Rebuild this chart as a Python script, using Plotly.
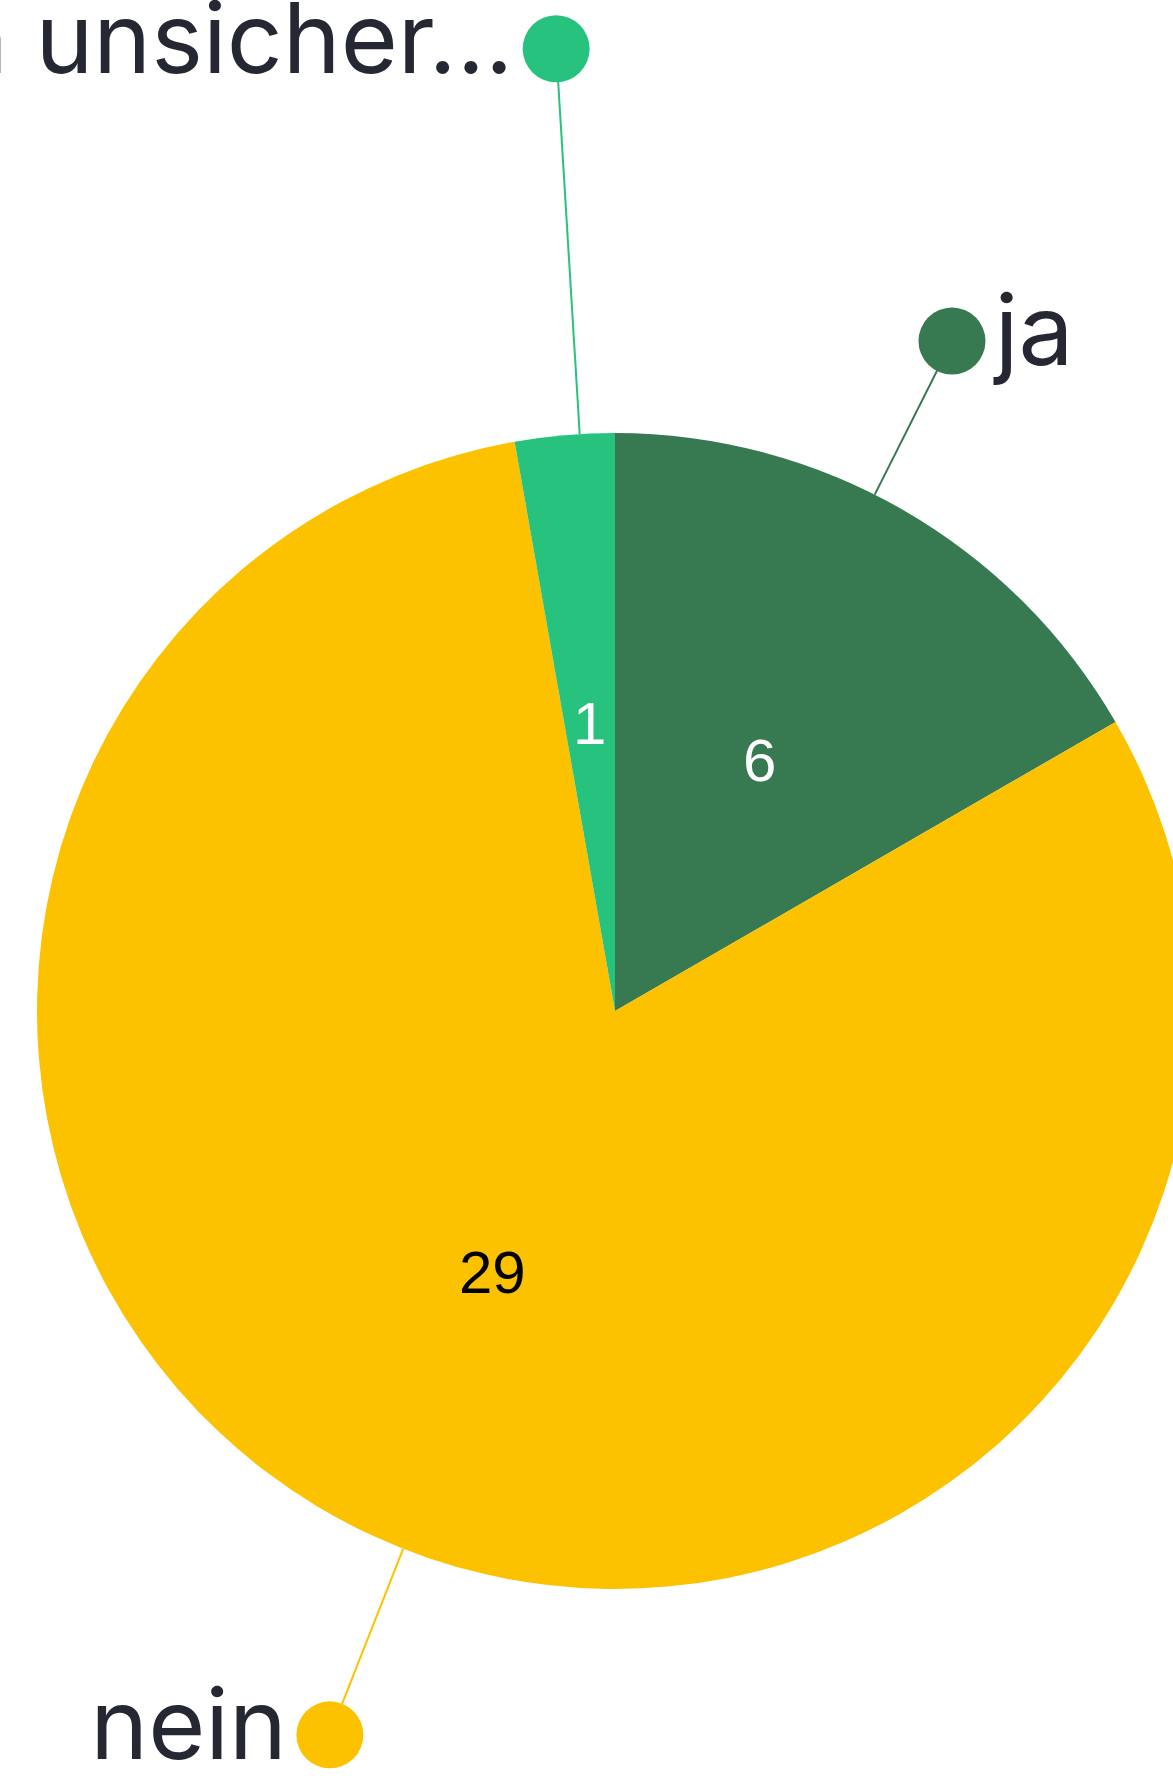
import math
import plotly.graph_objects as go

# ---- data ----
labels = ["ja", "nein", "Ich bin unsicher..."]
values = [6, 29, 1]
colors = ["#377A51", "#FCC200", "#27C27E"]
value_text_colors = ["#FFFFFF", "#000000", "#FFFFFF"]

# ---- layout constants (pixels) ----
W, H = 1210, 1789
CX, CY, R = 615, 1011, 578
label_dist = [750, 778, 964]          # dot distance from centre
label_angle_offset = [-3.3, -3.5, 1.5]  # degrees
label_side = ["middle right", "middle left", "middle left"]

fig = go.Figure()

fig.add_trace(go.Pie(
    labels=labels, values=values, sort=False, direction="clockwise", rotation=0,
    marker=dict(colors=colors, line=dict(width=0)),
    textinfo="none", hoverinfo="label+value", showlegend=False,
    domain=dict(x=[(CX - R) / W, (CX + R) / W], y=[(H - CY - R) / H, (H - CY + R) / H]),
))

total = sum(values)
cum = 0
annotations = []
for i, v in enumerate(values):
    start = cum / total * 360
    cum += v
    end = cum / total * 360
    mid = (start + end) / 2
    # slice value text at half radius
    mx = CX + 0.5 * R * math.sin(math.radians(mid))
    my = CY - 0.5 * R * math.cos(math.radians(mid))
    annotations.append(dict(
        x=mx, y=my, xref="x", yref="y", text=str(v), showarrow=False,
        font=dict(family="Liberation Sans, Arial", size=60, color=value_text_colors[i]),
        xanchor="center", yanchor="middle"))
    # leader line + dot + label
    a = math.radians(mid + label_angle_offset[i])
    sx, sy = CX + R * math.sin(a), CY - R * math.cos(a)
    dx, dy = CX + label_dist[i] * math.sin(a), CY - label_dist[i] * math.cos(a)
    fig.add_trace(go.Scatter(
        x=[sx, dx], y=[sy, dy], mode="lines+markers+text",
        line=dict(color=colors[i], width=2),
        marker=dict(size=[0, 67], color=colors[i], opacity=1, line=dict(width=0)),
        text=["", labels[i]], textposition=label_side[i],
        textfont=dict(family="Inter, Noto Sans, sans-serif", size=98, color="#252833"),
        cliponaxis=False, hoverinfo="skip", showlegend=False,
    ))

fig.update_layout(
    width=W, height=H,
    margin=dict(l=0, r=0, t=0, b=0),
    paper_bgcolor="white", plot_bgcolor="white",
    xaxis=dict(range=[0, W], visible=False, fixedrange=True, domain=[0, 1]),
    yaxis=dict(range=[H, 0], visible=False, fixedrange=True, domain=[0, 1]),
    annotations=annotations,
)

fig.write_html(
    "out.html",
    config={"displayModeBar": False},
    post_script="document.body.style.margin='0';document.body.style.overflow='hidden';"
                "document.documentElement.style.overflow='hidden';",
)
